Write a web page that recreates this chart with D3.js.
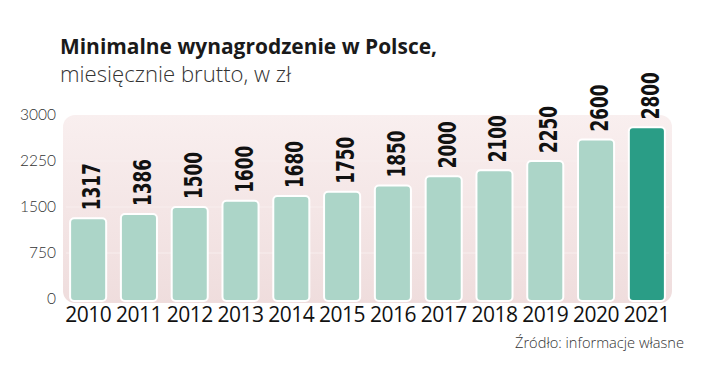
<!DOCTYPE html>
<html><head><meta charset="utf-8">
<script src="https://cdn.jsdelivr.net/npm/d3@7"></script>
<style>body{margin:0;background:#fff}svg{display:block}</style>
</head><body>
<svg id="c" width="720" height="381"></svg>
<script>
const years = ["2010","2011","2012","2013","2014","2015","2016","2017","2018","2019","2020","2021"];
const values = [1317,1386,1500,1600,1680,1750,1850,2000,2100,2250,2600,2800];
const yTicks = [0,750,1500,2250,3000];
const title = "Minimalne wynagrodzenie w Polsce,";
const subtitle = "miesięcznie brutto, w zł";
const source = "Źródło: informacje własne";

const svg = d3.select("#c");
const defs = svg.append("defs");
const g1 = defs.append("linearGradient").attr("id","bg").attr("x1",0).attr("y1",0).attr("x2",0).attr("y2",1);
g1.append("stop").attr("offset","0%").attr("stop-color","#f9efef");
g1.append("stop").attr("offset","100%").attr("stop-color","#efdddd");

const x = d3.scaleBand().domain(years).range([63, 672]).paddingInner(0.29).paddingOuter(0.14);
const y = d3.scaleLinear().domain([0,3000]).range([299, 115]);

// background panel
svg.append("rect").attr("x",63).attr("y",y(3000)).attr("width",672-63).attr("height",303-y(3000))
  .attr("rx",12).attr("fill","url(#bg)");

// gridlines
svg.append("g").selectAll("line").data(yTicks.filter(d=>d>0 && d<3000)).join("line")
  .attr("x1",66).attr("x2",669).attr("y1",d=>y(d)).attr("y2",d=>y(d))
  .attr("stroke","#f8eeee").attr("stroke-width",1.2);

// y axis
const yAxis = d3.axisLeft(y).tickValues(yTicks).tickFormat(d3.format("d")).tickSize(0).tickPadding(0);
const ya = svg.append("g").attr("transform","translate(56,0)").call(yAxis);
ya.select(".domain").remove();
ya.selectAll("text").attr("font-family","Lato, 'Open Sans', sans-serif").attr("font-size",15.5)
  .attr("font-weight",300).attr("fill","#333");

// bars
svg.append("g").selectAll("rect").data(values).join("rect")
  .attr("x",(d,i)=>x(years[i])).attr("width",x.bandwidth())
  .attr("y",d=>y(d)).attr("height",d=>y(0)-y(d)+2)
  .attr("rx",4)
  .attr("fill",(d,i)=> i===values.length-1 ? "#2a9d86" : "#acd5c8")
  .attr("stroke","#ffffff").attr("stroke-width",2);

// value labels
svg.append("g").selectAll("text").data(values).join("text")
  .attr("transform",(d,i)=>`translate(${x(years[i])+x.bandwidth()/2+12},${y(d)-8}) rotate(-90)`)
  .attr("font-family","'DejaVu Sans Condensed','DejaVu Sans',sans-serif")
  .attr("font-weight",700).attr("font-size",25).attr("fill","#111")
  .attr("textLength",47).attr("lengthAdjust","spacingAndGlyphs")
  .text(d=>d);

// x axis
const xAxis = d3.axisBottom(x).tickSize(0).tickPadding(0);
const xa = svg.append("g").attr("transform","translate(0,306)").call(xAxis);
xa.select(".domain").remove();
xa.selectAll("text").attr("font-family","'Open Sans', sans-serif").attr("font-size",21)
  .attr("fill","#111").attr("dy","0.75em").attr("letter-spacing","-0.5");

// titles
svg.append("text").attr("x",60).attr("y",54).attr("font-family","'Open Sans', sans-serif")
  .attr("font-weight",700).attr("font-size",22).attr("fill","#1a1a1a")
  .attr("textLength",377).attr("lengthAdjust","spacingAndGlyphs").text(title);
svg.append("text").attr("x",60).attr("y",82).attr("font-family","'Open Sans', sans-serif")
  .attr("font-weight",300).attr("font-size",22).attr("fill","#333")
  .attr("textLength",231).attr("lengthAdjust","spacingAndGlyphs").text(subtitle);
svg.append("text").attr("x",684).attr("y",348).attr("text-anchor","end")
  .attr("font-family","'Open Sans', sans-serif").attr("font-weight",300).attr("font-size",14.5)
  .attr("fill","#333").attr("textLength",169).attr("lengthAdjust","spacingAndGlyphs").text(source);
</script>
</body></html>
